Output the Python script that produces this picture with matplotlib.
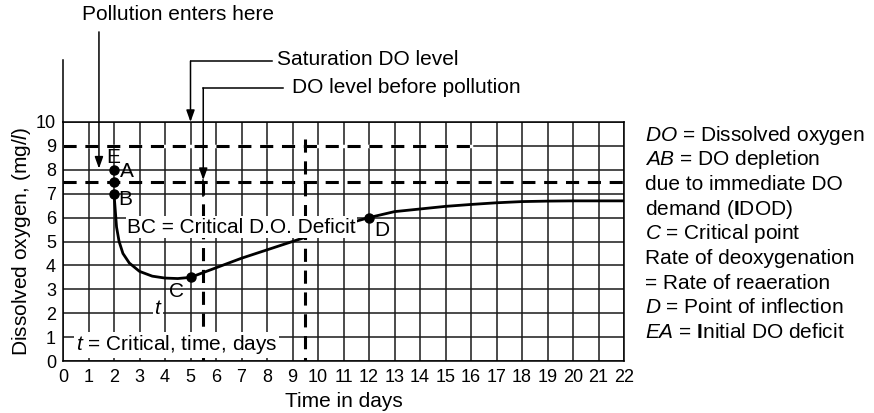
import matplotlib
matplotlib.use("Agg")
from matplotlib import pyplot as plt

plt.rcParams['font.family'] = ['Liberation Sans', 'DejaVu Sans']
plt.rcParams['mathtext.fontset'] = 'custom'
plt.rcParams['mathtext.rm'] = 'Liberation Sans'
plt.rcParams['mathtext.it'] = 'Liberation Sans:italic'
plt.rcParams['mathtext.bf'] = 'Liberation Sans:bold'

# DO sag curve
days = [2, 2.05, 2.1, 2.2, 2.35, 2.6, 3.0, 3.5, 4.0, 4.5, 5.0, 6, 7, 8, 9,
        10, 11, 12, 13, 14, 15, 16, 17, 18, 19, 20, 21, 22]
do = [7, 6.3, 5.6, 5.0, 4.5, 4.1, 3.75, 3.55, 3.47, 3.45, 3.5, 3.9, 4.3,
      4.65, 5.0, 5.35, 5.7, 6.0, 6.25, 6.36, 6.47, 6.55, 6.62, 6.67, 6.69,
      6.7, 6.7, 6.7]

# marked points A, E, B, C, D
pt_x = [2, 2, 2, 5, 12]
pt_y = [8, 7.5, 7, 3.5, 6]
pt_labels = ['A', 'E', 'B', 'C', 'D']
lab_x = [2.5, 1.98, 2.45, 4.46, 12.5]
lab_y = [7.92, 8.52, 6.74, 2.9, 5.48]

saturation = 9.0
before = 7.5
pollution_day = 1.41
t_crit = 5.5
t_other = 9.5

legend_lines = [
    r'$\mathit{DO}$ = Dissolved oxygen',
    r'$\mathit{AB}$ = DO depletion',
    'due to immediate DO',
    r'demand ($\mathbf{I}$DOD)',
    r'$\mathit{C}$ = Critical point',
    'Rate of deoxygenation',
    '= Rate of reaeration',
    r'$\mathit{D}$ = Point of inflection',
    r'$\mathit{EA}$ = $\mathbf{I}$nitial DO deficit',
]

fs = 15

fig = plt.figure(figsize=(8.74, 4.13), dpi=100)
ax = fig.add_axes([63/874, 1-361/413, (624-63)/874, (361-122)/413])
ax.set_xlim(0, 22)
ax.set_ylim(0, 10)
ax.set_xticks(range(23))
ax.set_yticks(range(11))
ax.grid(True, color='#1a1a1a', lw=1.1)
ax.set_axisbelow(True)
ax.tick_params(length=0, labelsize=13)
ax.tick_params(axis='x', pad=6)
ax.tick_params(axis='y', pad=5)
for s in ax.spines.values():
    s.set_linewidth(1.1)

ax.set_xlabel('Time in days', fontsize=fs, labelpad=4)
ax.set_ylabel(r'Dissolved oxygen, (mg/$\mathit{l}$)', fontsize=fs, labelpad=2)

# extended left axis line
ax.plot([0, 0], [10, 12.6], color='black', lw=1.1, clip_on=False)

dash = dict(color='black', lw=2.2, dashes=(4.3, 2.85), zorder=3)
ax.plot([0, 16], [saturation, saturation], color='white', lw=2.5, zorder=2)
ax.plot([0, 16], [saturation, saturation], **dash)
ax.plot([0, 22], [before, before], **dash)
ax.plot([t_crit, t_crit], [before, 0], **dash)
ax.plot([t_other, t_other], [9.3, 0], **dash)

ax.plot(days, do, color='black', lw=2.0, zorder=4)
ax.plot(pt_x, pt_y, 'o', color='black', ms=6.5, zorder=5)
for lx, ly, lb in zip(lab_x, lab_y, pt_labels):
    ax.text(lx, ly, lb, fontsize=fs, ha='center', va='center', zorder=6)

box = dict(facecolor='white', edgecolor='none', pad=1)
ax.text(7.0, 5.6, 'BC = Critical D.O. Deficit', fontsize=fs, ha='center',
        va='center', bbox=box, zorder=6)
ax.text(4.45, 0.67, r'$\mathit{t}$ = Critical, time, days', fontsize=fs,
        ha='center', va='center', bbox=box, zorder=6)
ax.text(3.73, 2.2, r'$\mathit{t}$', fontsize=fs, ha='center', va='center',
        bbox=dict(facecolor='white', edgecolor='none', pad=0.5), zorder=6)

arrow = dict(arrowstyle='-|>,head_length=0.7,head_width=0.25', color='black',
             lw=1.1, shrinkA=0, shrinkB=0)
# pollution enters here
ax.annotate('', xy=(pollution_day, 8.05), xytext=(pollution_day, 13.77),
            arrowprops=arrow, annotation_clip=False)
ax.text(4.5, 14.48, 'Pollution enters here', fontsize=fs, ha='center',
        va='center', clip_on=False)
# saturation DO level
ax.plot([5, 8.2], [12.55, 12.55], color='black', lw=1.1, clip_on=False)
ax.annotate('', xy=(5, 10), xytext=(5, 12.55), arrowprops=arrow,
            annotation_clip=False)
ax.text(8.39, 12.62, 'Saturation DO level', fontsize=fs, ha='left',
        va='center', clip_on=False)
# DO level before pollution
ax.plot([t_crit, 8.63], [11.42, 11.42], color='black', lw=1.1, clip_on=False)
ax.annotate('', xy=(t_crit, 7.57), xytext=(t_crit, 11.42), arrowprops=arrow,
            annotation_clip=False)
ax.plot([t_crit, t_crit], [7.57, 6.9], color='black', lw=1.1)
ax.text(8.98, 11.45, 'DO level before pollution', fontsize=fs, ha='left',
        va='center', clip_on=False)

for i, line in enumerate(legend_lines):
    fig.text(645/874, 1 - (135 + i*24.7)/413, line, fontsize=fs,
             ha='left', va='center')

plt.savefig('out.png', dpi=100)
plt.close()
